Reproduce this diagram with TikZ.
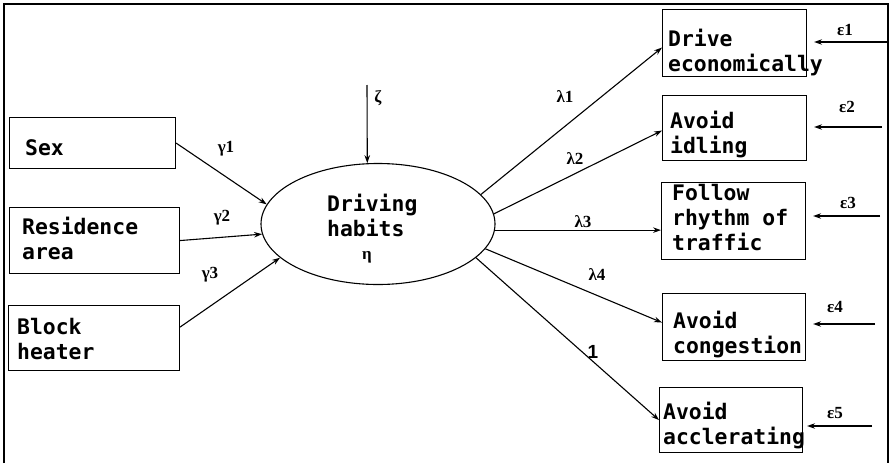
\documentclass[tikz,border=0pt]{standalone}
\usepackage{fontspec}
\setmainfont{Liberation Serif}
\newfontfamily\boxfont{DejaVu Sans Mono}
\newfontfamily\numfont{Liberation Sans}
\usetikzlibrary{arrows.meta,shapes.geometric}
\begin{document}
\begin{tikzpicture}[x=1pt,y=-1pt,
  obs/.style={draw, line width=1.1pt, inner sep=0pt, anchor=north west},
  lat/.style={draw, ellipse, line width=1.1pt, inner sep=0pt},
  txt/.style={inner sep=0pt, anchor=north west, align=left,
    font=\boxfont\bfseries\fontsize{21.4pt}{25pt}\selectfont},
  gk/.style={inner sep=0pt, font=\bfseries\fontsize{17pt}{19pt}\selectfont},
  arr/.style={line width=1.1pt, -{Stealth[length=8pt,width=5.5pt]}},
  frame/.style={line width=1.8pt}]
\useasboundingbox (0,0) rectangle (891,463);
% frame
\coordinate (fa) at (4,463);
\coordinate (fb) at (4,4);
\coordinate (fc) at (888,4);
\coordinate (fd) at (888,463);
\draw[frame] (fa) -- (fb) -- (fc) -- (fd);
% left boxes
\node[obs, minimum width=166pt, minimum height=51pt] (sex) at (9,117) {};
\node[obs, minimum width=170pt, minimum height=66pt] (res) at (9,207) {};
\node[obs, minimum width=171pt, minimum height=65pt] (blk) at (8,305) {};
\node[txt] (tsex) at (25,139) {Sex};
\node[txt] (tres) at (22,217) {Residence\\area};
\node[txt] (tblk) at (17,318) {Block\\heater};
% latent
\node[lat, minimum width=234pt, minimum height=121pt] (eta) at (378,224) {};
\node[txt] (teta) at (327,194) {Driving\\habits};
\node[gk] (leta) at (367,257) {η};
% right boxes
\node[obs, minimum width=144pt, minimum height=67pt] (de) at (662,9) {};
\node[obs, minimum width=144pt, minimum height=65pt] (ai) at (662,95) {};
\node[obs, minimum width=144pt, minimum height=77pt] (fr) at (661,182) {};
\node[obs, minimum width=143pt, minimum height=67pt] (ac) at (662,293) {};
\node[obs, minimum width=143pt, minimum height=65pt] (aa) at (659,387) {};
\node[txt] (tde) at (668,29) {Drive\\economically};
\node[txt] (tai) at (670,111) {Avoid\\idling};
\node[txt] (tfr) at (672,184) {Follow\\rhythm of\\traffic};
\node[txt] (tac) at (673,311) {Avoid\\congestion};
\node[txt] (taa) at (663,402) {Avoid\\acclerating};
% zeta
\coordinate (zs) at (367,85);
\node[gk] (lz) at (378,98) {ζ};
\draw[arr] (zs) -- (eta.100);
% gamma paths
\draw[arr] (sex.east) -- (eta.170);
\draw[arr] (res.east) -- (eta.185);
\draw[arr] ([yshift=11pt]blk.east) -- (eta.199);
\node[gk] (g1) at (226,149) {γ1};
\node[gk] (g2) at (222,218) {γ2};
\node[gk] (g3) at (210,275) {γ3};
% lambda paths
\draw[arr] (eta.16) -- ([yshift=-4.5pt]de.west);
\draw[arr] (eta.5) -- ([yshift=-2.5pt]ai.west);
\draw[arr] (eta.-3) -- (eta.-3 -| fr.west);
\draw[arr] (eta.-13) -- ([yshift=4.5pt]ac.west);
\draw[arr] (eta.-19) -- (aa.west);
\node[gk] (l1) at (565,97) {λ1};
\node[gk] (l2) at (575,159) {λ2};
\node[gk] (l3) at (583,222) {λ3};
\node[gk] (l4) at (597,275) {λ4};
\node[inner sep=0pt, font=\numfont\bfseries\fontsize{19pt}{20pt}\selectfont] (one) at (593,352) {1};
% error terms
\coordinate (e1s) at (888,42);
\coordinate (e2s) at (882,127);
\coordinate (e3s) at (880,216);
\coordinate (e4s) at (875,324);
\coordinate (e5s) at (872,426);
\draw[arr, shorten >=7pt] (e1s) -- (e1s -| de.east);
\draw[arr, shorten >=7pt] (e2s) -- (e2s -| ai.east);
\draw[arr, shorten >=7pt] (e3s) -- (e3s -| fr.east);
\draw[arr, shorten >=7pt] (e4s) -- (e4s -| ac.east);
\draw[arr, shorten >=4pt] (e5s) -- (e5s -| aa.east);
\node[gk] (ep1) at (845,30) {ε1};
\node[gk] (ep2) at (847,107) {ε2};
\node[gk] (ep3) at (848,203) {ε3};
\node[gk] (ep4) at (835,307) {ε4};
\node[gk] (ep5) at (835,413) {ε5};
\end{tikzpicture}
\end{document}
